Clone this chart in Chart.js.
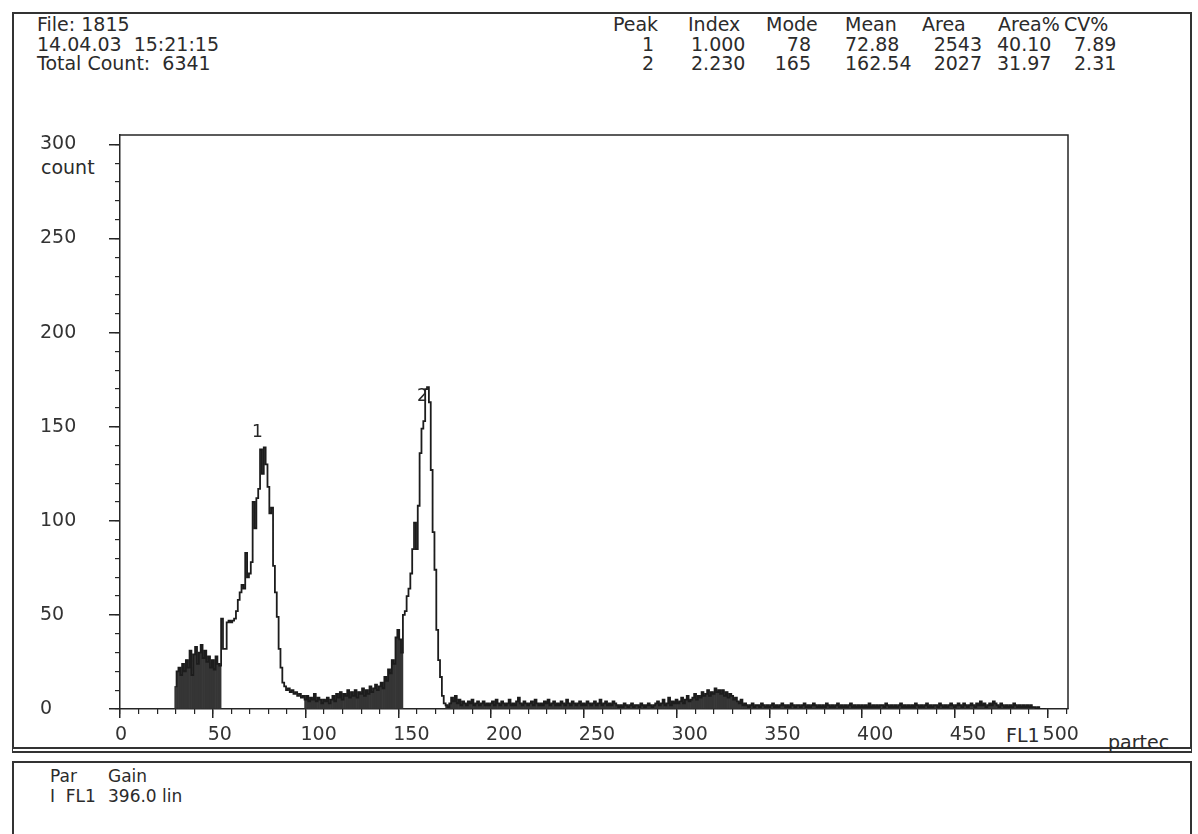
<!DOCTYPE html>
<html>
<head>
<meta charset="UTF-8">
<title>FL1 histogram</title>
<script src="https://cdn.jsdelivr.net/npm/chart.js@4.4.1/dist/chart.umd.min.js"></script>
<style>
body { margin:0; background:#fff; font-family:"DejaVu Sans", sans-serif; color:#2b2b2b; }
#page { position:relative; width:1198px; height:834px; overflow:hidden; }
.box { position:absolute; border:2px solid #333; }
#topBox { left:12px; top:12px; width:1176px; height:733px; border-bottom:6px double #333; }
#lowBox { left:12px; top:761px; width:1176px; height:90px; }
.t { position:absolute; font-size:19px; line-height:19px; white-space:pre; }
.s { position:absolute; font-size:17px; line-height:17px; white-space:pre; }
canvas { position:absolute; left:0; top:0; }
</style>
</head>
<body>
<div id="page">
  <div class="box" id="topBox"></div>
  <div class="box" id="lowBox"></div>
  <div id="texts"></div>
  <canvas id="myChart" width="1198" height="834"></canvas>
</div>
<script>
// histogram, one value per channel starting at firstChannel
const firstChannel = 30;
const counts = [
  12,20,22,18,24,20,26,22,31,18,   // 30
  29,33,24,30,34,27,31,25,28,22,   // 40
  26,21,28,24,23,48,32,32,46,47,   // 50
  46,47,48,52,58,62,66,64,83,70,   // 60
  72,78,110,96,112,117,138,125,139,130, // 70
  118,104,107,76,62,49,32,22,14,12, // 80
  10,11,9,10,8,9,7,8,6,7,          // 90
  5,7,4,6,5,8,4,6,5,3,             // 100
  5,4,6,3,5,7,4,8,6,9,             // 110
  5,8,7,10,6,9,7,10,6,9,           // 120
  8,11,7,10,8,12,9,11,13,10,       // 130
  12,14,11,17,15,21,19,26,24,38,   // 140
  42,37,30,50,52,60,64,72,85,99,   // 150
  85,108,136,149,153,170,171,163,127,94, // 160
  74,42,26,17,7,3,2,1,3,6,         // 170
  4,7,3,5,2,4,3,2,4,3,             // 180
  5,2,3,4,2,3,4,2,3,2,             // 190
  3,4,2,5,3,2,4,3,2,3,             // 200
  5,2,3,2,4,6,3,2,4,3,             // 210
  2,3,4,2,5,3,2,3,2,4,             // 220
  3,5,2,3,4,2,3,2,4,3,             // 230
  2,5,3,2,4,3,2,3,4,2,             // 240
  3,2,4,3,2,3,4,2,3,5,             // 250
  2,3,4,2,3,2,4,3,2,1,             // 260
  2,1,3,2,1,2,3,1,2,2,             // 270
  1,3,2,1,2,3,2,1,2,3,             // 280
  4,2,3,5,2,3,6,2,4,3,             // 290
  5,3,4,6,3,5,7,4,5,6,             // 300
  8,5,7,6,9,7,8,10,7,9,            // 310
  8,11,9,10,8,10,7,9,6,8,          // 320
  7,5,6,4,3,5,2,3,2,1,             // 330
  2,3,1,2,2,1,3,2,1,2,             // 340
  1,2,3,1,2,1,2,3,2,1,             // 350
  2,1,3,2,1,2,2,1,2,3,             // 360
  1,2,1,2,3,2,1,2,1,2,             // 370
  1,3,2,1,2,1,2,3,1,2,             // 380
  1,2,1,2,3,1,2,1,2,1,             // 390
  2,1,2,1,3,1,2,1,2,1,             // 400
  2,2,1,3,2,1,2,1,2,1,             // 410
  2,3,1,2,1,2,1,2,1,3,             // 420
  2,1,2,1,2,3,1,2,1,2,             // 430
  2,1,3,2,1,2,1,2,3,2,             // 440
  1,2,3,2,1,3,2,1,2,3,             // 450
  2,1,3,2,4,2,3,1,2,3,             // 460
  2,4,3,2,1,3,2,1,2,1,             // 470
  2,1,3,2,1,2,1,2,1,2,             // 480
  1,2,1,1,0,1,0,0,0,0              // 490
];

// gated peaks (drawn as outline only, the rest is filled)
const peakFrom = [55, 153];
const peakTo = [99, 175];
const peakNames = ['1', '2'];
const peakLabelX = [74, 163];
const peakLabelY = [147, 166];

const xMajor = [0, 50, 100, 150, 200, 250, 300, 350, 400, 450, 500];
const yMajor = [0, 50, 100, 150, 200, 250, 300];
const minorStep = 10;

const infoLines = ['File: 1815', '14.04.03  15:21:15', 'Total Count:  6341'];
const tableHead = ['Peak', 'Index', 'Mode', 'Mean', 'Area', 'Area%', 'CV%'];
const tableRows = [
  ['1', '1.000', '78', '72.88', '2543', '40.10', '7.89'],
  ['2', '2.230', '165', '162.54', '2027', '31.97', '2.31']
];
const parHead = ['Par', 'Gain'];
const parRow = ['I  FL1', '396.0 lin'];

// ---- text panels ----
const texts = document.getElementById('texts');
function addText(str, left, top, cls, align) {
  const d = document.createElement('div');
  d.className = cls || 't';
  d.textContent = str;
  d.style.top = top + 'px';
  if (align === 'right') d.style.right = (1198 - left) + 'px';
  else d.style.left = left + 'px';
  texts.appendChild(d);
}
const lineTops = [15, 35, 54];
infoLines.forEach((s, i) => addText(s, 37, lineTops[i]));

const headLeft = [613, 688, 766, 845, 922, 998, 1064];
tableHead.forEach((s, i) => addText(s, headLeft[i], lineTops[0]));
// column anchors for the values: [x, align]
const colAnchor = [[654, 'right'], [691, 'left'], [811, 'right'], [845, 'left'],
                   [982, 'right'], [997, 'left'], [1074, 'left']];
tableRows.forEach((row, r) => {
  row.forEach((s, i) => addText(s, colAnchor[i][0], lineTops[r + 1], 't', colAnchor[i][1]));
});

addText('count', 41, 158);
addText('FL1', 1006, 726);
addText('partec', 1108, 733);
addText(parHead[0], 50, 768, 's');
addText(parHead[1], 108, 768, 's');
addText(parRow[0], 50, 788, 's');
addText(parRow[1], 108, 788, 's');

// ---- chart ----
const points = counts.map((c, i) => ({ x: firstChannel + i, y: c }));
const inPeak = ch => peakFrom.some((f, k) => ch >= f && ch <= peakTo[k]);
const barPoints = points.map(p => ({ x: p.x, y: inPeak(p.x) ? null : p.y }));

const ink = '#262626';
const tickFont = { family: 'DejaVu Sans', size: 19 };

function stepTicks(max, step) {
  const out = [];
  for (let v = 0; v <= max; v += step) out.push({ value: v });
  return out;
}

const framePlugin = {
  id: 'frame',
  afterDatasetsDraw(chart) {
    const { ctx, chartArea: a, scales } = chart;
    ctx.save();
    ctx.strokeStyle = ink;
    ctx.lineWidth = 1.5;
    ctx.beginPath();
    ctx.moveTo(a.left, a.top);
    ctx.lineTo(a.right, a.top);
    ctx.lineTo(a.right, a.bottom);
    ctx.stroke();
    ctx.fillStyle = ink;
    ctx.font = '17px "DejaVu Sans"';
    ctx.textAlign = 'center';
    ctx.textBaseline = 'middle';
    peakNames.forEach((n, i) => {
      ctx.fillText(n, scales.x.getPixelForValue(peakLabelX[i]), scales.y.getPixelForValue(peakLabelY[i]));
    });
    ctx.restore();
  }
};

const myChart = new Chart(document.getElementById('myChart'), {
  data: {
    datasets: [{
      type: 'line',
      data: points,
      borderColor: '#1c1c1c',
      borderWidth: 1.8,
      pointRadius: 0,
      stepped: 'middle',
      xAxisID: 'x',
      yAxisID: 'y'
    }, {
      type: 'bar',
      data: barPoints,
      backgroundColor: '#353535',
      borderWidth: 0,
      barPercentage: 1,
      categoryPercentage: 1,
      xAxisID: 'x',
      yAxisID: 'y'
    }]
  },
  options: {
    responsive: false,
    animation: false,
    devicePixelRatio: 1,
    layout: { padding: { left: 40, right: 130, top: 135, bottom: 65 } },
    plugins: { legend: { display: false }, tooltip: { enabled: false } },
    scales: {
      x: {
        type: 'linear', min: 0, max: 511, position: 'bottom', weight: 1, offset: false,
        afterBuildTicks: s => { s.ticks = xMajor.map(v => ({ value: v })); },
        afterFit: s => { s.height = 60; },
        grid: { drawOnChartArea: false, offset: false, tickLength: 9, color: ink, lineWidth: 1.5 },
        border: { display: true, color: ink, width: 1.5 },
        ticks: { align: 'start', labelOffset: -5, padding: 6, font: tickFont, color: '#333',
                 maxRotation: 0, autoSkip: false, callback: v => String(v) }
      },
      xm: {
        type: 'linear', min: 0, max: 511, position: 'bottom', weight: 0, offset: false,
        afterBuildTicks: s => { s.ticks = stepTicks(511, minorStep); },
        afterFit: s => { s.height = 0; },
        grid: { drawOnChartArea: false, offset: false, tickLength: 5, color: ink, lineWidth: 1.2 },
        border: { display: false },
        ticks: { display: false }
      },
      y: {
        type: 'linear', min: 0, max: 305, position: 'left', weight: 1,
        afterBuildTicks: s => { s.ticks = yMajor.map(v => ({ value: v })); },
        afterFit: s => { s.width = 80; },
        grid: { drawOnChartArea: false, tickLength: 11, color: ink, lineWidth: 1.5 },
        border: { display: true, color: ink, width: 1.5 },
        ticks: { crossAlign: 'far', padding: 0, font: tickFont, color: '#333', autoSkip: false,
                 callback: v => String(v) }
      },
      ym: {
        type: 'linear', min: 0, max: 305, position: 'left', weight: 0,
        afterBuildTicks: s => { s.ticks = stepTicks(305, minorStep); },
        afterFit: s => { s.width = 0; },
        grid: { drawOnChartArea: false, tickLength: 5, color: ink, lineWidth: 1.2 },
        border: { display: false },
        ticks: { display: false }
      }
    }
  },
  plugins: [framePlugin]
});
</script>
</body>
</html>
